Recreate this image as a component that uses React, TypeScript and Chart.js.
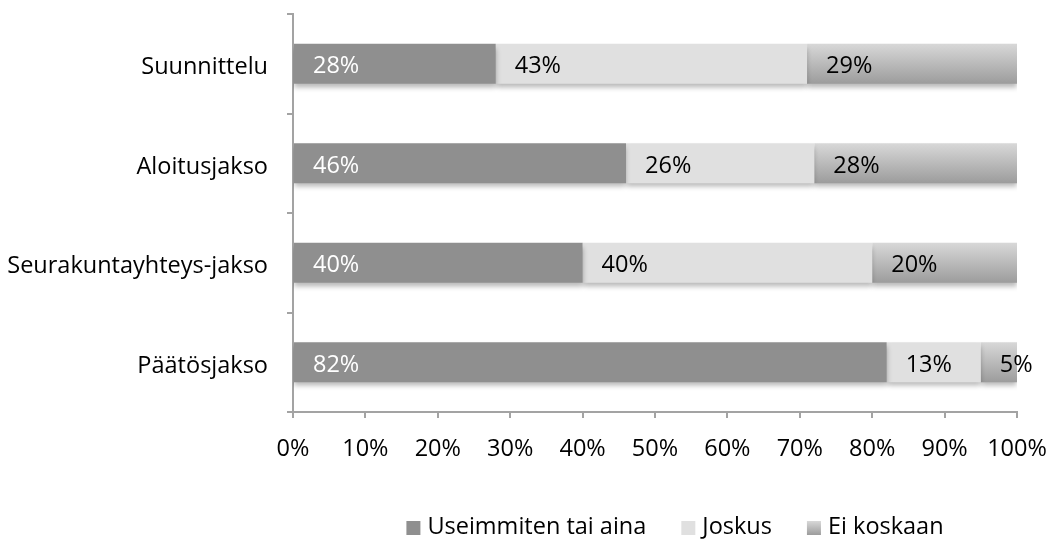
import React, { useEffect, useRef } from "react";
import { Chart, registerables } from "chart.js";

Chart.register(...registerables);

const categories = ["Suunnittelu", "Aloitusjakso", "Seurakuntayhteys-jakso", "Päätösjakso"];
const seriesNames = ["Useimmiten tai aina", "Joskus", "Ei koskaan"];
const usually = [28, 46, 40, 82];
const sometimes = [43, 26, 40, 13];
const never = [29, 28, 20, 5];
const xTicks = [0, 10, 20, 30, 40, 50, 60, 70, 80, 90, 100];

const FONT = "'Open Sans', sans-serif";
const FS = 23.5;
const DARK = "#8f8f8f";
const LIGHT = "#e0e0e0";
const AXIS = "#a3a3a3";

function neverGradient(ctx: CanvasRenderingContext2D, top: number, bottom: number) {
  const g = ctx.createLinearGradient(0, top, 0, bottom);
  g.addColorStop(0, "#d8d8d8");
  g.addColorStop(1, "#9c9c9c");
  return g;
}

export default function App() {
  const ref = useRef<HTMLCanvasElement | null>(null);

  useEffect(() => {
    document.body.style.margin = "0";
    const canvas = ref.current;
    if (!canvas) return;

    const shadowPlugin = {
      id: "barShadow",
      beforeDatasetsDraw(chart: any) {
        const c = chart.ctx;
        c.save();
        c.shadowColor = "rgba(0,0,0,0.28)";
        c.shadowBlur = 5;
        c.shadowOffsetX = 0;
        c.shadowOffsetY = 4;
      },
      afterDatasetsDraw(chart: any) {
        chart.ctx.restore();
      },
    };

    const labelPlugin = {
      id: "segLabels",
      afterDatasetsDraw(chart: any) {
        const c = chart.ctx;
        c.save();
        c.font = `${FS}px ${FONT}`;
        c.textAlign = "left";
        c.textBaseline = "middle";
        chart.data.datasets.forEach((ds: any, di: number) => {
          const meta = chart.getDatasetMeta(di);
          meta.data.forEach((el: any, i: number) => {
            const left = Math.min(el.base, el.x);
            c.fillStyle = di === 0 ? "#ffffff" : "#000000";
            c.fillText(ds.data[i] + "%", left + 19, el.y + 3);
          });
        });
        c.restore();
      },
    };

    const legendPlugin = {
      id: "customLegend",
      afterDraw(chart: any) {
        const c = chart.ctx;
        c.save();
        c.font = `${FS}px ${FONT}`;
        c.textBaseline = "middle";
        c.textAlign = "left";
        const box = 14;
        const gapBoxText = 7;
        const gapItems = 35;
        const widths = seriesNames.map((n) => c.measureText(n).width);
        const total =
          widths.reduce((a: number, w: number) => a + w + box + gapBoxText, 0) + gapItems * (seriesNames.length - 1);
        let x = 675 - total / 2;
        const cy = 527;
        seriesNames.forEach((n, i) => {
          const top = cy - box / 2 + 1;
          if (i === 0) c.fillStyle = DARK;
          else if (i === 1) c.fillStyle = LIGHT;
          else c.fillStyle = neverGradient(c, top, top + box);
          c.fillRect(x, top, box, box);
          x += box + gapBoxText;
          c.fillStyle = "#000";
          c.fillText(n, x, cy);
          x += widths[i] + gapItems;
        });
        c.restore();
      },
    };

    const chart = new Chart(canvas, {
      type: "bar",
      data: {
        labels: categories,
        datasets: [
          { label: seriesNames[0], data: usually, backgroundColor: DARK },
          { label: seriesNames[1], data: sometimes, backgroundColor: LIGHT },
          {
            label: seriesNames[2],
            data: never,
            backgroundColor: (ctx: any) => {
              const ch = ctx.chart;
              const ys = ch.scales?.y;
              if (!ys || ctx.dataIndex === undefined) return "#b8b8b8";
              const cy = ys.getPixelForValue(ctx.dataIndex);
              if (!Number.isFinite(cy)) return "#b8b8b8";
              return neverGradient(ch.ctx, cy - 20, cy + 20);
            },
          },
        ],
      },
      options: {
        indexAxis: "y",
        responsive: false,
        animation: false,
        events: [],
        layout: { padding: { left: 0, right: 32, top: 14, bottom: 77 } },
        datasets: {
          bar: { categoryPercentage: 0.8, barPercentage: 0.5, borderWidth: 0 },
        },
        plugins: {
          legend: { display: false },
          tooltip: { enabled: false },
          title: { display: false },
        },
        scales: {
          x: {
            stacked: true,
            min: 0,
            max: 100,
            afterBuildTicks: (scale: any) => {
              scale.ticks = xTicks.map((v) => ({ value: v }));
            },
            afterFit: (scale: any) => {
              scale.height = 50;
              scale.paddingLeft = 0;
              scale.paddingRight = 0;
              scale.paddingTop = 0;
              scale.paddingBottom = 0;
            },
            ticks: {
              callback: (v: any) => v + "%",
              color: "#000",
              font: { family: FONT, size: FS },
              padding: 17,
              maxRotation: 0,
              autoSkip: false,
            },
            grid: {
              drawOnChartArea: false,
              drawTicks: true,
              tickLength: 6,
              color: AXIS,
              lineWidth: 2,
            },
            border: { display: true, color: AXIS, width: 2 },
          },
          y: {
            stacked: true,
            afterFit: (scale: any) => {
              scale.width = 293;
              scale.paddingLeft = 0;
              scale.paddingRight = 0;
              scale.paddingTop = 0;
              scale.paddingBottom = 0;
            },
            ticks: {
              color: "#000",
              font: { family: FONT, size: FS },
              padding: 19,
              labelOffset: 4,
            },
            grid: {
              offset: true,
              drawOnChartArea: false,
              drawTicks: true,
              tickLength: 6,
              color: AXIS,
              lineWidth: 2,
            },
            border: { display: true, color: AXIS, width: 2 },
          },
        },
      } as any,
      plugins: [shadowPlugin, labelPlugin, legendPlugin],
    });

    return () => chart.destroy();
  }, []);

  return (
    <div style={{ width: 1049, height: 539 }}>
      <canvas ref={ref} width={1049} height={539} style={{ display: "block" }} />
    </div>
  );
}
